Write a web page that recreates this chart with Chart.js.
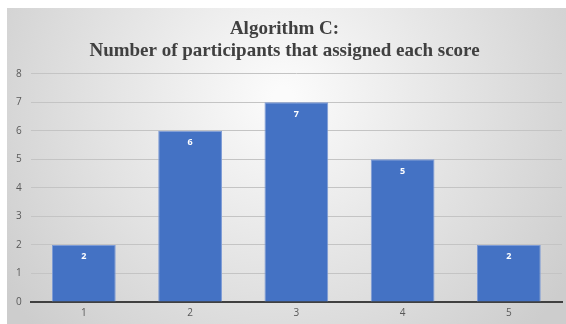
<!DOCTYPE html>
<html>
<head>
<meta charset="utf-8">
<script src="https://cdn.jsdelivr.net/npm/chart.js@4/dist/chart.umd.min.js"></script>
<style>
    html, body { margin: 0; padding: 0; background: #fff; }
    #wrap { width: 566px; height: 324px; position: relative; }
</style>
</head>
<body>
<div id="wrap"><canvas id="chart"></canvas></div>
<script>
    const scores = ['1', '2', '3', '4', '5'];
    const participants = [2, 6, 7, 5, 2];
    const titleLines = ['Algorithm C:', 'Number of participants that assigned each score'];

    // gray radial backdrop, like the office chart area
    const backdrop = {
        id: 'backdrop',
        beforeDraw: (chart) => {
            const ctx = chart.ctx;
            const w = chart.width, h = chart.height;
            const g = ctx.createRadialGradient(w * 0.5, h * 0.3, 10, w * 0.5, h * 0.3, w * 0.6);
            g.addColorStop(0, '#fbfbfb');
            g.addColorStop(1, '#cdcdcd');
            ctx.save();
            ctx.fillStyle = g;
            ctx.fillRect(7, 8, w - 7, h - 8);
            ctx.restore();
        }
    };

    // white value labels inside the top of each bar
    const barValues = {
        id: 'barValues',
        afterDatasetsDraw: (chart) => {
            const ctx = chart.ctx;
            const meta = chart.getDatasetMeta(0);
            ctx.save();
            ctx.fillStyle = '#ffffff';
            ctx.font = 'bold 9px "Open Sans", sans-serif';
            ctx.textAlign = 'center';
            ctx.textBaseline = 'middle';
            meta.data.forEach((bar, i) => {
                ctx.fillText(String(chart.data.datasets[0].data[i]), bar.x, bar.y + 12);
            });
            ctx.restore();
        }
    };

    new Chart(document.getElementById('chart'), {
        type: 'bar',
        data: {
            labels: scores,
            datasets: [{
                label: 'Participants',
                data: participants,
                backgroundColor: '#4472C4',
                borderColor: '#7d9bd6',
                borderWidth: 1,
                barPercentage: 0.6,
                categoryPercentage: 1
            }]
        },
        options: {
            responsive: true,
            maintainAspectRatio: false,
            animation: false,
            devicePixelRatio: 1,
            layout: { padding: { left: 7, right: 4, top: 6, bottom: 0 } },
            plugins: {
                legend: { display: false },
                tooltip: { enabled: false },
                title: {
                    display: true,
                    text: titleLines,
                    color: '#404040',
                    font: { family: '"Liberation Serif", serif', size: 19, weight: 'bold', lineHeight: 1.15 },
                    padding: { top: 12, bottom: 12 }
                }
            },
            scales: {
                x: {
                    grid: { display: false, drawTicks: false },
                    border: { display: true, color: '#404040', width: 2 },
                    ticks: { color: '#595959', font: { family: '"Open Sans", sans-serif', size: 10 }, padding: 5 }
                },
                y: {
                    min: 0,
                    max: 8,
                    ticks: { stepSize: 1, color: '#595959', font: { family: '"Open Sans", sans-serif', size: 10 }, padding: 9 },
                    grid: { color: '#c4c4c4', drawTicks: false },
                    border: { display: false }
                }
            }
        },
        plugins: [backdrop, barValues]
    });
</script>
</body>
</html>
